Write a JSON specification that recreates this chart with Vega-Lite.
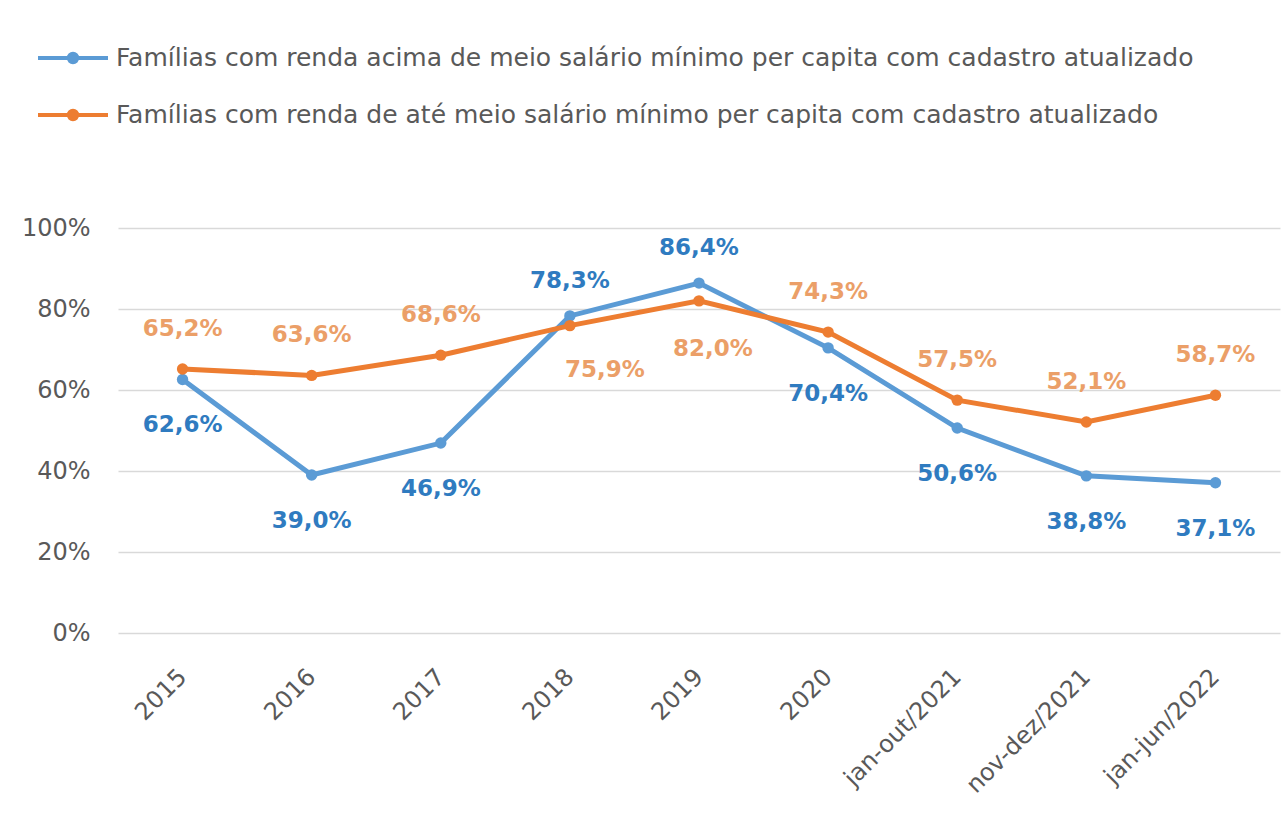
{
  "$schema": "https://vega.github.io/schema/vega-lite/v6.json",
  "width": 1162,
  "height": 405,
  "autosize": {"type": "none"},
  "padding": {"left": 118, "top": 228, "right": 7, "bottom": 199},
  "background": "white",
  "config": {
    "locale": {"number": {"decimal": ",", "thousands": ".", "grouping": [3], "currency": ["R$", ""]}},
    "view": {"stroke": null},
    "font": "DejaVu Sans"
  },
  "data": {
    "values": [
      {"periodo": "2015", "g": "acima", "serie": "Famílias com renda acima de meio salário mínimo per capita com cadastro atualizado", "valor": 0.626},
      {"periodo": "2016", "g": "acima", "serie": "Famílias com renda acima de meio salário mínimo per capita com cadastro atualizado", "valor": 0.390},
      {"periodo": "2017", "g": "acima", "serie": "Famílias com renda acima de meio salário mínimo per capita com cadastro atualizado", "valor": 0.469},
      {"periodo": "2018", "g": "acima", "serie": "Famílias com renda acima de meio salário mínimo per capita com cadastro atualizado", "valor": 0.783},
      {"periodo": "2019", "g": "acima", "serie": "Famílias com renda acima de meio salário mínimo per capita com cadastro atualizado", "valor": 0.864},
      {"periodo": "2020", "g": "acima", "serie": "Famílias com renda acima de meio salário mínimo per capita com cadastro atualizado", "valor": 0.704},
      {"periodo": "jan-out/2021", "g": "acima", "serie": "Famílias com renda acima de meio salário mínimo per capita com cadastro atualizado", "valor": 0.506},
      {"periodo": "nov-dez/2021", "g": "acima", "serie": "Famílias com renda acima de meio salário mínimo per capita com cadastro atualizado", "valor": 0.388},
      {"periodo": "jan-jun/2022", "g": "acima", "serie": "Famílias com renda acima de meio salário mínimo per capita com cadastro atualizado", "valor": 0.371},
      {"periodo": "2015", "g": "ate", "serie": "Famílias com renda de até meio salário mínimo per capita com cadastro atualizado", "valor": 0.652},
      {"periodo": "2016", "g": "ate", "serie": "Famílias com renda de até meio salário mínimo per capita com cadastro atualizado", "valor": 0.636},
      {"periodo": "2017", "g": "ate", "serie": "Famílias com renda de até meio salário mínimo per capita com cadastro atualizado", "valor": 0.686},
      {"periodo": "2018", "g": "ate", "serie": "Famílias com renda de até meio salário mínimo per capita com cadastro atualizado", "valor": 0.759},
      {"periodo": "2019", "g": "ate", "serie": "Famílias com renda de até meio salário mínimo per capita com cadastro atualizado", "valor": 0.820},
      {"periodo": "2020", "g": "ate", "serie": "Famílias com renda de até meio salário mínimo per capita com cadastro atualizado", "valor": 0.743},
      {"periodo": "jan-out/2021", "g": "ate", "serie": "Famílias com renda de até meio salário mínimo per capita com cadastro atualizado", "valor": 0.575},
      {"periodo": "nov-dez/2021", "g": "ate", "serie": "Famílias com renda de até meio salário mínimo per capita com cadastro atualizado", "valor": 0.521},
      {"periodo": "jan-jun/2022", "g": "ate", "serie": "Famílias com renda de até meio salário mínimo per capita com cadastro atualizado", "valor": 0.587}
    ]
  },
  "encoding": {
    "x": {
      "field": "periodo", "type": "ordinal", "sort": null,
      "scale": {"type": "point", "padding": 0.5},
      "axis": {"title": null, "domain": false, "ticks": false, "grid": false, "labelAngle": -45, "labelAlign": "right", "labelBaseline": "middle", "labelPadding": 40, "labelFontSize": 24, "labelColor": "#595959"}
    },
    "y": {
      "field": "valor", "type": "quantitative",
      "scale": {"domain": [0, 1]},
      "axis": {"title": null, "values": [0, 0.2, 0.4, 0.6, 0.8, 1], "format": ".0%", "domain": false, "ticks": false, "gridColor": "#d9d9d9", "gridWidth": 1.5, "labelPadding": 28, "labelFontSize": 24, "labelColor": "#595959"}
    }
  },
  "layer": [
    {
      "mark": {"type": "line", "strokeWidth": 5, "point": {"filled": true, "size": 130}},
      "encoding": {
        "color": {
          "field": "serie", "type": "nominal",
          "scale": {"domain": ["Famílias com renda acima de meio salário mínimo per capita com cadastro atualizado", "Famílias com renda de até meio salário mínimo per capita com cadastro atualizado"], "range": ["#5B9BD5", "#ED7D31"]},
          "legend": {
            "orient": "none", "legendX": -82, "legendY": -183, "direction": "vertical", "title": null, "padding": 0,
            "symbolType": "M-1,0H1M0.12,0A0.12,0.12,0,1,1,-0.12,0A0.12,0.12,0,1,1,0.12,0Z",
            "symbolSize": 4900, "symbolStrokeWidth": 4,
            "labelFontSize": 25, "labelColor": "#595959", "labelOffset": 6, "labelLimit": 1300,
            "clipHeight": 26, "rowPadding": 31
          }
        },
        "order": {"field": "g", "type": "nominal"}
      }
    },
    {
      "transform": [{"filter": "datum.g == 'acima' && datum.periodo != '2018' && datum.periodo != '2019'"}],
      "mark": {"type": "text", "dy": 46, "fontSize": 23, "fontWeight": "bold", "color": "#2F7BC0"},
      "encoding": {"text": {"field": "valor", "type": "quantitative", "format": ".1%"}}
    },
    {
      "transform": [{"filter": "datum.g == 'acima' && (datum.periodo == '2018' || datum.periodo == '2019')"}],
      "mark": {"type": "text", "dy": -35, "fontSize": 23, "fontWeight": "bold", "color": "#2F7BC0"},
      "encoding": {"text": {"field": "valor", "type": "quantitative", "format": ".1%"}}
    },
    {
      "transform": [{"filter": "datum.g == 'ate' && datum.periodo != '2018' && datum.periodo != '2019'"}],
      "mark": {"type": "text", "dy": -40, "fontSize": 23, "fontWeight": "bold", "color": "#EB9F68"},
      "encoding": {"text": {"field": "valor", "type": "quantitative", "format": ".1%"}}
    },
    {
      "transform": [{"filter": "datum.g == 'ate' && datum.periodo == '2018'"}],
      "mark": {"type": "text", "dx": 35, "dy": 44, "fontSize": 23, "fontWeight": "bold", "color": "#EB9F68"},
      "encoding": {"text": {"field": "valor", "type": "quantitative", "format": ".1%"}}
    },
    {
      "transform": [{"filter": "datum.g == 'ate' && datum.periodo == '2019'"}],
      "mark": {"type": "text", "dx": 14, "dy": 48, "fontSize": 23, "fontWeight": "bold", "color": "#EB9F68"},
      "encoding": {"text": {"field": "valor", "type": "quantitative", "format": ".1%"}}
    }
  ]
}
